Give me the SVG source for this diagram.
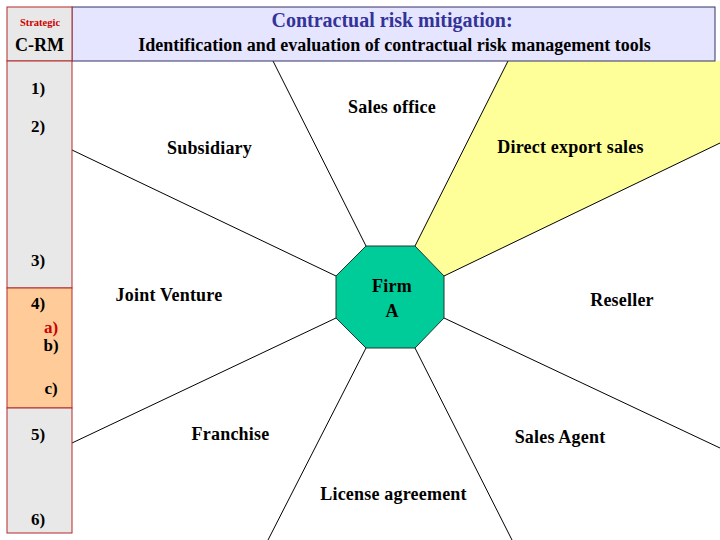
<svg xmlns="http://www.w3.org/2000/svg" width="720" height="540" viewBox="0 0 720 540">
<style>
text{font-family:"Liberation Serif","Times New Roman",serif;font-weight:bold;fill:#000}
.lbl{font-size:18px;letter-spacing:0.2px;text-anchor:middle}
.num{font-size:17px;text-anchor:middle}
.conn line{stroke:#000;stroke-width:1}
.cell{stroke:#b22b2b;stroke-width:1}
</style>
<rect width="720" height="540" fill="#fff"/>
<g id="direct-export-sector">
<polygon points="415,246 508,61 720,61 720,143 444,276" fill="#ffff99"/>
</g>
<g id="connectors" class="conn">
<line x1="366" y1="246" x2="273" y2="61"/>
<line x1="415" y1="246" x2="508" y2="61"/>
<line x1="444" y1="276" x2="720" y2="143"/>
<line x1="444" y1="318" x2="720" y2="448"/>
<line x1="415" y1="348" x2="512" y2="540"/>
<line x1="366" y1="348" x2="268" y2="540"/>
<line x1="336" y1="318" x2="72" y2="443"/>
<line x1="336" y1="276" x2="72" y2="150"/>
</g>
<g id="header">
<rect x="72" y="7" width="643" height="54" fill="#e5e5ff" stroke="#333366" stroke-width="1"/>
<text x="392" y="27" text-anchor="middle" style="font-size:20px;fill:#333399">Contractual risk mitigation:</text>
<text x="394.5" y="51" text-anchor="middle" style="font-size:18px">Identification and evaluation of contractual risk management tools</text>
</g>
<g id="crm-column">
<rect class="cell" x="7" y="7" width="65" height="54" fill="#e8e8e8"/>
<rect class="cell" x="7" y="61" width="65" height="227" fill="#e8e8e8"/>
<rect class="cell" x="7" y="288" width="65" height="120" fill="#ffcc99"/>
<rect class="cell" x="7" y="408" width="65" height="125" fill="#e8e8e8"/>
<text x="40" y="26" text-anchor="middle" style="font-size:10.5px;fill:#cc0000">Strategic</text>
<text x="39.5" y="51" text-anchor="middle" style="font-size:18px">C-RM</text>
<text class="num" x="38" y="94">1)</text>
<text class="num" x="38" y="132">2)</text>
<text class="num" x="38" y="266">3)</text>
<text class="num" x="38" y="309">4)</text>
<text class="num" x="51" y="333" style="fill:#cc0000">a)</text>
<text class="num" x="51" y="351">b)</text>
<text class="num" x="51" y="394">c)</text>
<text class="num" x="38" y="440">5)</text>
<text class="num" x="38" y="525">6)</text>
</g>
<g id="firm-a">
<polygon points="366,246 415,246 444,276 444,318 415,348 366,348 336,318 336,276" fill="#00cc99" stroke="#1a3a30" stroke-width="1"/>
<text class="lbl" x="392" y="292">Firm</text>
<text class="lbl" x="392" y="317">A</text>
</g>
<g id="sales-office"><text class="lbl" x="392" y="113">Sales office</text></g>
<g id="subsidiary"><text class="lbl" x="209.5" y="154">Subsidiary</text></g>
<g id="direct-export-sales"><text class="lbl" x="570.5" y="153">Direct export sales</text></g>
<g id="joint-venture"><text class="lbl" x="169" y="301">Joint Venture</text></g>
<g id="reseller"><text class="lbl" x="622" y="306">Reseller</text></g>
<g id="franchise"><text class="lbl" x="230.5" y="440">Franchise</text></g>
<g id="sales-agent"><text class="lbl" x="560" y="443">Sales Agent</text></g>
<g id="license-agreement"><text class="lbl" x="393.5" y="500">License agreement</text></g>
</svg>
